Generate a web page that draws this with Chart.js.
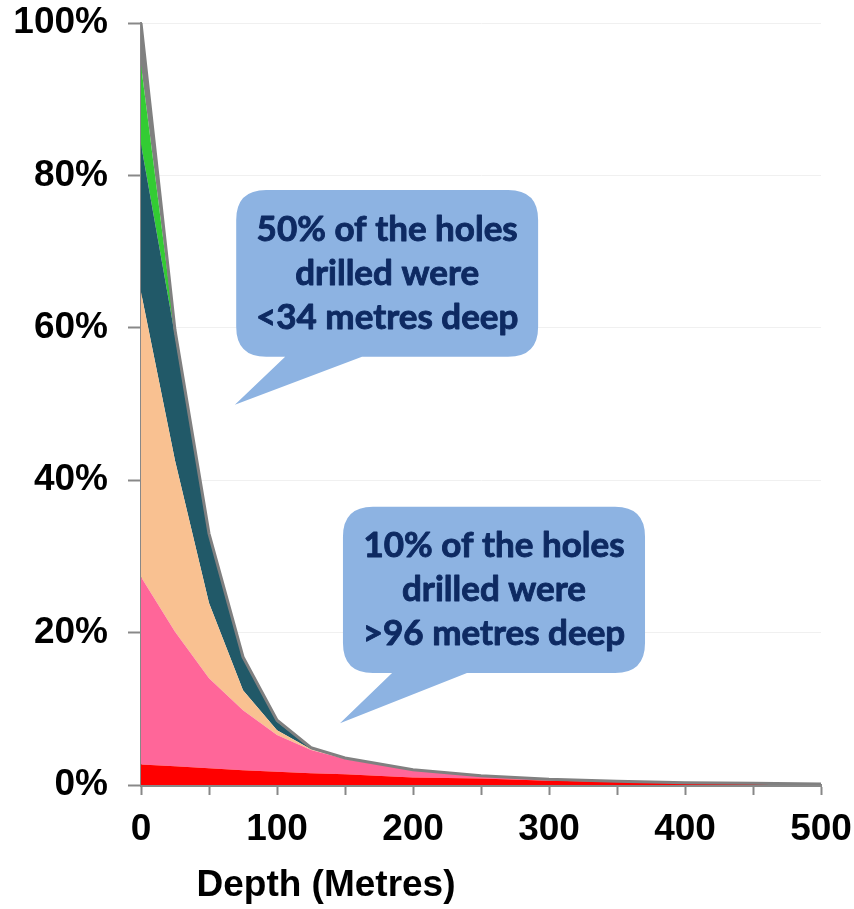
<!DOCTYPE html>
<html>
<head>
<meta charset="utf-8">
<script src="https://cdn.jsdelivr.net/npm/chart.js@4/dist/chart.umd.min.js"></script>
<style>
  html, body { margin: 0; padding: 0; background: #ffffff; }
  #wrap { width: 854px; height: 909px; }
</style>
</head>
<body>
<div id="wrap"><canvas id="c" width="854" height="909"></canvas></div>
<script>
// Depth of drilled holes (metres) and the share of holes in each band (%, stacked)
const depths   = [0, 25, 50, 75, 100, 125, 150, 200, 250, 300, 350, 400, 450, 500];
const bandRed   = [2.7, 2.45, 2.2, 1.95, 1.75, 1.55, 1.4, 1.0, 0.85, 0.55, 0.42, 0.3, 0.22, 0.13];
const bandPink  = [24.6, 17.65, 11.8, 7.85, 4.8, 3.05, 2.0, 0.95, 0.35, 0.2, 0.08, 0, 0, 0];
const bandPeach = [37.35, 22.5, 9.9, 2.65, 0.65, 0.1, 0.05, 0, 0, 0, 0, 0, 0, 0];
const bandTeal  = [19.45, 16.4, 8.9, 4.15, 1.1, 0.15, 0.05, 0.02, 0, 0, 0, 0, 0, 0];
const bandGreen = [10.4, 0.4, 0.1, 0.1, 0.1, 0.03, 0.02, 0, 0, 0, 0, 0, 0, 0];
const bandGrey  = [5.5, 0.3, 0.1, 0.1, 0.1, 0.02, 0.03, 0.03, 0, 0, 0, 0, 0, 0];

const yTicks = [0, 20, 40, 60, 80, 100];
const xLabelStep = 100;
const xTitle = 'Depth (Metres)';

const callouts = [
  { lines: ['50% of the holes', 'drilled were', '<34 metres deep'],
    box: { x0: 70, x1: 292, yTop: 78.1, yBot: 56.2 }, tailBase: [106, 162.5], tip: [69, 49.9] },
  { lines: ['10% of the holes', 'drilled were', '>96 metres deep'],
    box: { x0: 148.5, x1: 370.6, yTop: 36.5, yBot: 14.7 }, tailBase: [184.6, 239.7], tip: [146.3, 8.1] }
];

const pts = arr => arr.map((v, i) => ({ x: depths[i], y: v }));

function band(data, color, fillTo, border) {
  return {
    data: pts(data),
    backgroundColor: color,
    borderColor: border || color,
    borderWidth: border ? 3 : 0,
    fill: fillTo,
    pointRadius: 0,
    pointHoverRadius: 0,
    tension: 0
  };
}

const calloutPlugin = {
  id: 'callouts',
  afterDatasetsDraw(chart) {
    const { ctx, scales: { x, y } } = chart;
    callouts.forEach(c => {
      const L = x.getPixelForValue(c.box.x0), R = x.getPixelForValue(c.box.x1);
      const T = y.getPixelForValue(c.box.yTop), B = y.getPixelForValue(c.box.yBot);
      const r = 30;
      const b0 = x.getPixelForValue(c.tailBase[0]), b1 = x.getPixelForValue(c.tailBase[1]);
      const tx = x.getPixelForValue(c.tip[0]), ty = y.getPixelForValue(c.tip[1]);
      ctx.save();
      ctx.beginPath();
      ctx.moveTo(L + r, T);
      ctx.lineTo(R - r, T);
      ctx.quadraticCurveTo(R, T, R, T + r);
      ctx.lineTo(R, B - r);
      ctx.quadraticCurveTo(R, B, R - r, B);
      ctx.lineTo(b1, B);
      ctx.lineTo(tx, ty);
      ctx.lineTo(b0, B);
      ctx.lineTo(L + r, B);
      ctx.quadraticCurveTo(L, B, L, B - r);
      ctx.lineTo(L, T + r);
      ctx.quadraticCurveTo(L, T, L + r, T);
      ctx.closePath();
      ctx.fillStyle = '#8DB3E2';
      ctx.fill();
      ctx.fillStyle = '#0E2A62';
      ctx.strokeStyle = '#0E2A62';
      ctx.lineWidth = 0.9;
      ctx.lineJoin = 'round';
      ctx.font = 'bold 35px Lato';
      ctx.textAlign = 'center';
      ctx.textBaseline = 'middle';
      const cx = (L + R) / 2, cy = (T + B) / 2, lh = 44;
      c.lines.forEach((s, i) => {
        ctx.fillText(s, cx, cy + (i - 1) * lh);
        ctx.strokeText(s, cx, cy + (i - 1) * lh);
      });
      ctx.restore();
    });
  },
  afterDraw(chart) {
    const { ctx, chartArea } = chart;
    ctx.save();
    ctx.fillStyle = '#000';
    ctx.font = 'bold 37px "Liberation Sans", Arial, sans-serif';
    ctx.textAlign = 'center';
    ctx.textBaseline = 'middle';
    ctx.fillText(xTitle, chartArea.left + 185, chartArea.bottom + 101);
    ctx.restore();
  }
};

const tickFont = { family: '"Liberation Sans", Arial, sans-serif', size: 37, weight: 'bold' };

new Chart(document.getElementById('c'), {
  type: 'line',
  data: {
    datasets: [
      band(bandRed,   '#FF0000', 'origin'),
      band(bandPink,  '#FF6699', '-1'),
      band(bandPeach, '#F9C191', '-1'),
      band(bandTeal,  '#215968', '-1'),
      band(bandGreen, '#33CC33', '-1'),
      band(bandGrey,  '#808080', '-1', '#808080')
    ]
  },
  options: {
    responsive: false,
    devicePixelRatio: 1,
    animation: false,
    layout: { padding: { top: 23, right: 33, left: 0, bottom: 0 } },
    plugins: {
      legend: { display: false },
      tooltip: { enabled: false },
      filler: { drawTime: 'beforeDatasetsDraw', propagate: false }
    },
    scales: {
      x: {
        type: 'linear',
        min: 0, max: 500,
        ticks: {
          stepSize: 50,
          font: tickFont,
          color: '#000',
          padding: 13,
          maxRotation: 0,
          autoSkip: false,
          callback: v => (v % xLabelStep === 0 ? String(v) : '')
        },
        grid: { drawOnChartArea: false, tickLength: 10, tickColor: '#888888', tickWidth: 2 },
        border: { color: '#888888', width: 3 },
        afterFit: s => { s.height = 124; s.paddingLeft = 0; s.paddingRight = 0; }
      },
      y: {
        stacked: true,
        min: 0, max: 100,
        afterBuildTicks: s => { s.ticks = yTicks.map(v => ({ value: v })); },
        ticks: {
          font: tickFont,
          color: '#000',
          padding: 20,
          callback: v => v + '%'
        },
        grid: { color: '#F0F0F0', lineWidth: 1, tickLength: 13, tickColor: '#888888', tickWidth: 2 },
        border: { color: '#888888', width: 2 },
        afterFit: s => { s.width = 141; s.paddingTop = 0; s.paddingBottom = 0; }
      }
    }
  },
  plugins: [calloutPlugin]
});
</script>
</body>
</html>
